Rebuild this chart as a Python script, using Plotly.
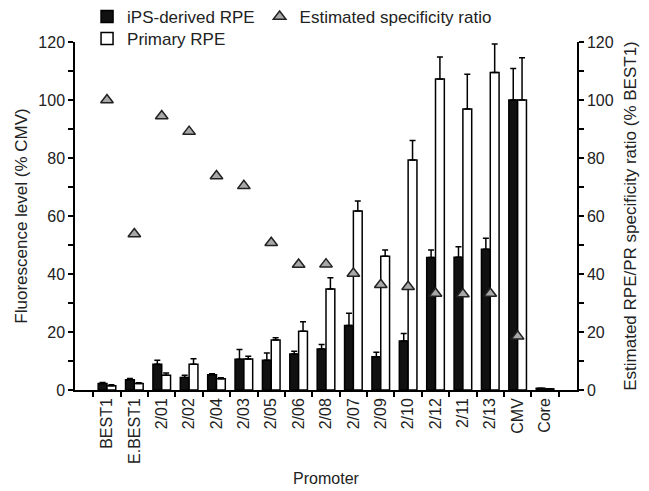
import plotly.graph_objects as go

categories = ["BEST1", "E.BEST1", "2/01", "2/02", "2/04", "2/03", "2/05", "2/06", "2/08",
              "2/07", "2/09", "2/10", "2/12", "2/11", "2/13", "CMV", "Core"]
ips_rpe = [2.2, 3.5, 8.9, 4.3, 5.3, 10.6, 10.3, 12.4, 14.1, 22.2, 11.5, 16.9, 45.7, 45.8, 48.5, 100, 0.6]
ips_err = [0.4, 0.5, 1.4, 0.8, 0.3, 3.4, 2.5, 1.0, 1.6, 4.3, 1.5, 2.6, 2.6, 3.6, 3.8, 10.9, 0]
primary_rpe = [1.5, 2.2, 5.1, 8.9, 3.9, 10.7, 17.2, 20.3, 34.8, 61.7, 46.1, 79.3, 107.2, 96.9, 109.5, 100, 0.4]
primary_err = [0.3, 0.3, 0.8, 1.9, 0.3, 0.9, 0.8, 3.2, 3.9, 3.5, 2.2, 6.7, 7.6, 12.0, 9.8, 14.6, 0]
specificity = [100, 53.8, 94.5, 89.1, 73.8, 70.4, 50.8, 43.3, 43.4, 40.2, 36.3, 35.6, 33.3, 33.1, 33.3, 18.5, None]

FONT = "Liberation Sans, Arial, sans-serif"

fig = go.Figure()
fig.add_trace(go.Bar(
    x=categories, y=ips_rpe, name="iPS-derived RPE",
    marker=dict(color="#111111", line=dict(color="black", width=1.5)),
    error_y=dict(type="data", array=ips_err, arrayminus=[0] * len(ips_err), symmetric=False,
                 color="black", thickness=1.5, width=3),
    legend="legend",
))
fig.add_trace(go.Bar(
    x=categories, y=primary_rpe, name="Primary RPE",
    marker=dict(color="white", line=dict(color="black", width=1.5)),
    error_y=dict(type="data", array=primary_err, arrayminus=[0] * len(primary_err), symmetric=False,
                 color="black", thickness=1.5, width=3),
    legend="legend2",
))
fig.add_trace(go.Scatter(
    x=categories, y=specificity, name="Estimated specificity ratio", mode="markers",
    yaxis="y2",
    marker=dict(symbol="triangle-up", size=11, color="#a8a8a8", line=dict(color="#222222", width=1.5)),
    legend="legend",
))

axis_common = dict(
    range=[0, 120], dtick=20, ticks="outside", ticklen=5, tickwidth=1.5, tickcolor="black",
    showline=True, linecolor="black", linewidth=1.5, showgrid=False, zeroline=False,
    minor=dict(dtick=10, ticks="outside", ticklen=5, tickwidth=1.5, tickcolor="black"),
    tickfont=dict(size=16, color="#222222", family=FONT),
)

# the page body has an 8px default margin, so the figure is 8px smaller on each axis
fig.update_layout(
    width=641, height=483,
    margin=dict(l=67, r=72, t=34, b=101, autoexpand=False),
    paper_bgcolor="white", plot_bgcolor="white",
    font=dict(family=FONT, size=16, color="#222222"),
    barmode="group", bargap=0.356, bargroupgap=0,
    xaxis=dict(
        type="category", tickson="boundaries", ticks="outside", ticklen=5, tickwidth=1.5,
        tickcolor="black", showline=True, linecolor="black", linewidth=1.5, showgrid=False,
        tickangle=-90, tickfont=dict(size=16, color="#222222", family=FONT),
        title=dict(text="Promoter", font=dict(size=16), standoff=10),
    ),
    yaxis=dict(**axis_common, title=dict(text="Fluorescence level (% CMV)", font=dict(size=17), standoff=6)),
    yaxis2=dict(**axis_common, overlaying="y", side="right",
                title=dict(text="Estimated RPE/PR specificity ratio (% BEST1)", font=dict(size=17), standoff=11)),
    legend=dict(orientation="h", x=0.024, y=1.072, xanchor="left", yanchor="middle",
                bgcolor="rgba(0,0,0,0)", font=dict(size=17), itemwidth=30),
    legend2=dict(orientation="h", x=0.024, y=1.009, xanchor="left", yanchor="middle",
                 bgcolor="rgba(0,0,0,0)", font=dict(size=17), itemwidth=30),
    showlegend=True,
)

fig.write_html("out.html")
